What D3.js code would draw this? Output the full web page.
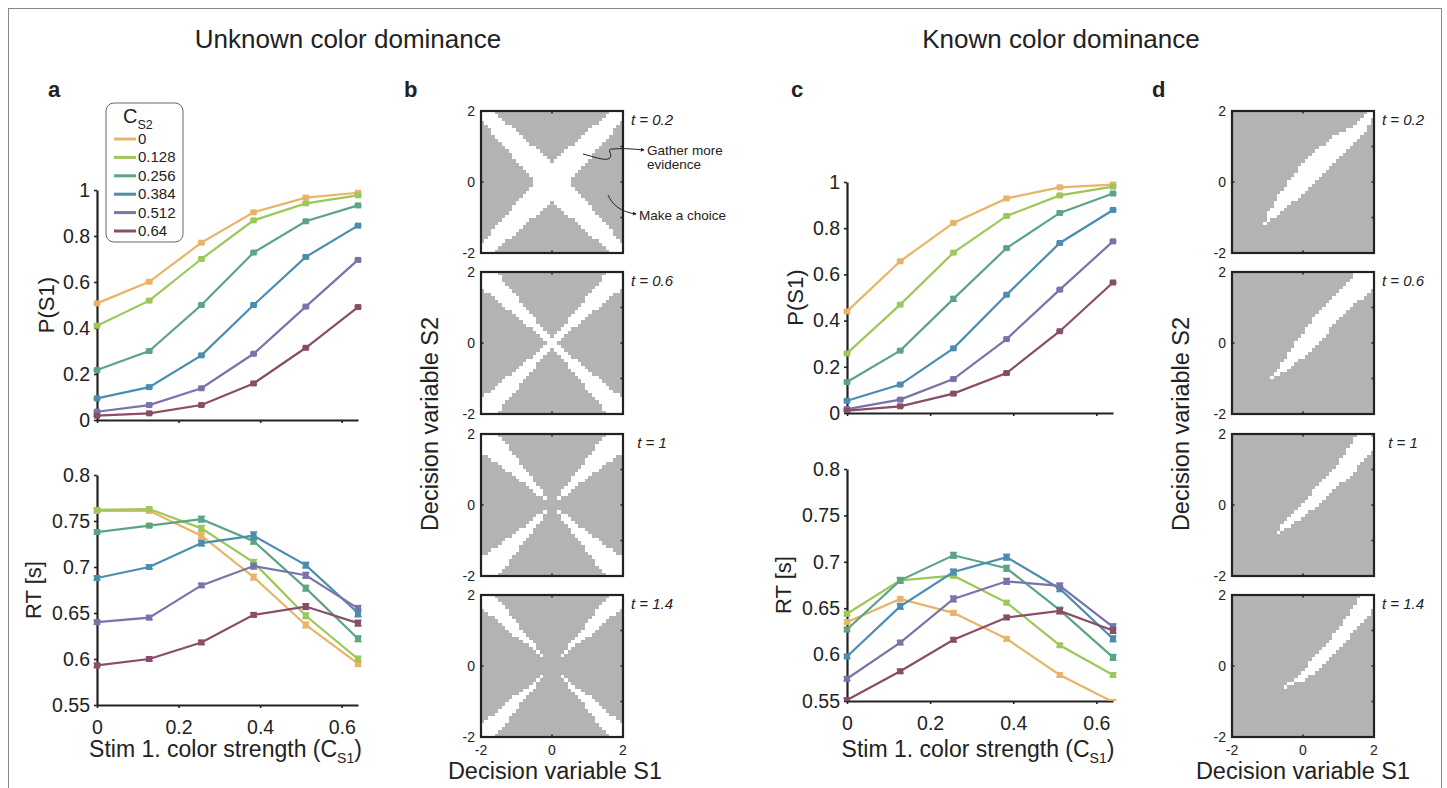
<!DOCTYPE html>
<html>
<head>
<meta charset="utf-8">
<script src="https://cdn.jsdelivr.net/npm/d3@7"></script>
<style>
  body { margin: 0; background: #fff; }
  text { font-family: "Liberation Sans", Arial, Helvetica, sans-serif; fill: #222; }
</style>
</head>
<body>
<svg id="fig" width="1447" height="788"></svg>
<script>
// ---- data ----
const strengths = [0, 0.128, 0.256, 0.384, 0.512, 0.64];
const seriesLabels = ['0', '0.128', '0.256', '0.384', '0.512', '0.64'];
const seriesColors = ['#e9b467', '#9cc85a', '#5ca584', '#4a8db0', '#7873a8', '#8a4d69'];

const pUnknown = [
  [0.507, 0.601, 0.771, 0.903, 0.967, 0.988],
  [0.410, 0.519, 0.700, 0.868, 0.942, 0.977],
  [0.217, 0.300, 0.500, 0.728, 0.864, 0.933],
  [0.094, 0.143, 0.281, 0.500, 0.709, 0.845],
  [0.036, 0.065, 0.138, 0.288, 0.493, 0.696],
  [0.019, 0.029, 0.065, 0.159, 0.314, 0.491]
];
const rtUnknown = [
  [0.761, 0.761, 0.734, 0.689, 0.637, 0.595],
  [0.762, 0.763, 0.742, 0.705, 0.647, 0.600],
  [0.738, 0.745, 0.752, 0.728, 0.677, 0.622],
  [0.688, 0.700, 0.726, 0.734, 0.702, 0.650],
  [0.640, 0.645, 0.680, 0.701, 0.691, 0.655],
  [0.593, 0.600, 0.618, 0.648, 0.657, 0.639]
];
const rtUnknownErr = [
  [0.002, 0.002, 0.003, 0.003, 0.003, 0.003],
  [0.002, 0.002, 0.003, 0.003, 0.003, 0.003],
  [0.002, 0.002, 0.003, 0.003, 0.003, 0.003],
  [0.002, 0.002, 0.003, 0.004, 0.003, 0.004],
  [0.002, 0.002, 0.002, 0.003, 0.003, 0.003],
  [0.002, 0.002, 0.002, 0.002, 0.003, 0.003]
];
const pUnknownErr = [
  [0.004, 0.004, 0.004, 0.004, 0.004, 0.004],
  [0.004, 0.004, 0.004, 0.004, 0.004, 0.004],
  [0.004, 0.004, 0.004, 0.004, 0.004, 0.004],
  [0.004, 0.004, 0.004, 0.004, 0.004, 0.004],
  [0.004, 0.004, 0.004, 0.004, 0.004, 0.004],
  [0.004, 0.004, 0.004, 0.004, 0.004, 0.004]
];
const pKnown = [
  [0.440, 0.657, 0.823, 0.929, 0.977, 0.989],
  [0.258, 0.469, 0.694, 0.853, 0.942, 0.980],
  [0.134, 0.270, 0.494, 0.714, 0.866, 0.950],
  [0.053, 0.123, 0.280, 0.512, 0.736, 0.879],
  [0.017, 0.058, 0.147, 0.320, 0.534, 0.743],
  [0.010, 0.029, 0.084, 0.173, 0.354, 0.565]
];
const rtKnown = [
  [0.635, 0.660, 0.645, 0.617, 0.578, 0.549],
  [0.644, 0.680, 0.685, 0.656, 0.610, 0.578],
  [0.627, 0.680, 0.707, 0.693, 0.648, 0.597],
  [0.598, 0.652, 0.689, 0.705, 0.671, 0.617],
  [0.574, 0.613, 0.660, 0.679, 0.674, 0.630],
  [0.551, 0.582, 0.616, 0.640, 0.647, 0.626]
];
const rtKnownErr = [
  [0.002, 0.002, 0.002, 0.002, 0.002, 0.002],
  [0.002, 0.002, 0.002, 0.002, 0.002, 0.002],
  [0.002, 0.003, 0.003, 0.003, 0.003, 0.003],
  [0.002, 0.003, 0.003, 0.003, 0.003, 0.003],
  [0.002, 0.002, 0.003, 0.003, 0.003, 0.003],
  [0.002, 0.002, 0.002, 0.002, 0.003, 0.003]
];
const pKnownErr = [
  [0.004, 0.004, 0.004, 0.004, 0.004, 0.004],
  [0.004, 0.004, 0.004, 0.004, 0.004, 0.004],
  [0.004, 0.004, 0.010, 0.004, 0.004, 0.004],
  [0.004, 0.004, 0.004, 0.004, 0.004, 0.004],
  [0.004, 0.004, 0.004, 0.004, 0.004, 0.004],
  [0.004, 0.004, 0.004, 0.004, 0.004, 0.004]
];

const pTicks = [0, 0.2, 0.4, 0.6, 0.8, 1];
const rtTicks = [0.55, 0.6, 0.65, 0.7, 0.75, 0.8];
const strengthTicks = [0, 0.2, 0.4, 0.6];
const timeLabels = ['0.2', '0.6', '1', '1.4'];
const dvTicks = [-2, 0, 2];

// Unknown dominance: white X-arm cells, per |row offset| 0..20 from centre, [min,max] |column offset|
const xArms = [
  [[0,5],[0,5],[0,6],[0,7],[0,8],[0,9],[1,10],[2,11],[3,11],[4,12],[5,13],[7,14],[8,15],[9,16],[10,17],[11,17],[12,18],[14,19],[15,20],[16,20],[17,20]],
  [[0,1],[0,2],[1,3],[2,4],[3,5],[4,7],[5,8],[5,9],[6,10],[7,11],[8,13],[9,14],[10,15],[10,16],[11,17],[12,19],[13,20],[14,20],[15,20],[15,20],[16,20]],
  [null,null,[2,2],[3,4],[3,5],[4,6],[5,7],[6,9],[6,10],[7,11],[8,13],[9,14],[10,15],[10,17],[11,18],[12,20],[13,20],[13,20],[14,20],[15,20],[16,20]],
  [null,null,null,[3,3],[4,4],[5,5],[5,6],[6,8],[7,9],[8,11],[9,12],[10,13],[10,14],[11,15],[12,16],[13,18],[13,19],[14,20],[15,20],[16,20],[17,20]]
];
// Known dominance: white diagonal cells per grid row (top to bottom), [first,last] column
const diagBands = [
  [[39,40],[38,40],[37,39],[36,39],[35,38],[33,38],[31,37],[29,36],[28,35],[27,34],[25,33],[24,32],[23,31],[22,30],[21,29],[20,28],[19,27],[19,26],[18,25],[17,24],[16,23],[16,22],[15,21],[14,20],[13,19],[13,18],[12,16],[12,15],[11,14],[10,13],[10,12],[10,10],[9,9]],
  [[35,40],[35,40],[34,40],[33,40],[32,40],[31,39],[30,38],[29,37],[28,35],[27,34],[26,33],[25,32],[24,31],[23,30],[23,29],[22,28],[21,27],[21,27],[20,26],[19,25],[18,24],[18,23],[17,22],[16,21],[16,20],[15,18],[14,17],[14,16],[13,15],[12,13],[11,11]],
  [[36,39],[35,40],[35,40],[34,40],[33,40],[33,39],[32,38],[31,37],[31,36],[30,35],[29,35],[28,34],[27,33],[26,32],[25,30],[24,29],[23,28],[23,27],[22,26],[21,25],[20,24],[19,23],[18,21],[17,20],[16,19],[15,17],[14,16],[14,14],[13,13]],
  [[37,40],[36,40],[36,40],[35,40],[34,39],[34,39],[33,38],[32,37],[32,36],[31,35],[30,34],[29,33],[29,33],[28,32],[27,31],[26,30],[25,29],[24,28],[23,27],[22,26],[22,25],[21,24],[20,23],[19,21],[18,20],[16,17],[15,15]]
];

// ---- drawing ----
const svg = d3.select('#fig');
const fmt = d3.format('~g');
const INK = '#222';

// figure frame
svg.append('rect').attr('x', 8.5).attr('y', 8.5).attr('width', 1433).attr('height', 800)
  .attr('fill', 'none').attr('stroke', '#888').attr('stroke-width', 1);

svg.append('text').attr('x', 348).attr('y', 48).attr('text-anchor', 'middle')
  .style('font-size', '26px').text('Unknown color dominance');
svg.append('text').attr('x', 1061).attr('y', 48).attr('text-anchor', 'middle')
  .style('font-size', '26px').text('Known color dominance');

[['a', 48], ['b', 404], ['c', 791], ['d', 1152]].forEach(([t, x]) => {
  svg.append('text').attr('x', x).attr('y', 97).style('font-size', '22px')
    .style('font-weight', 'bold').text(t);
});

let clipId = 0;
function linePanel(o) {
  const x = d3.scaleLinear().domain([0, 0.64]).range([o.x0, o.x1]);
  const y = d3.scaleLinear().domain(o.domainY).range([o.yBottom, o.yTop]);
  const g = svg.append('g');

  const xa = g.append('g').attr('transform', `translate(0,${o.yBottom})`)
    .call(d3.axisBottom(x).tickValues(strengthTicks).tickSize(3).tickSizeOuter(0)
      .tickPadding(12).tickFormat(o.xLabels ? fmt : ''));
  const ya = g.append('g').attr('transform', `translate(${o.x0},0)`)
    .call(d3.axisLeft(y).tickValues(o.yTicks).tickSize(3).tickSizeOuter(0)
      .tickPadding(4).tickFormat(fmt));
  [xa, ya].forEach(a => {
    a.select('.domain').attr('stroke', INK).attr('stroke-width', 2.2);
    a.selectAll('.tick line').attr('stroke', INK).attr('stroke-width', 1.6);
    a.selectAll('.tick text').style('font-size', '19.5px').attr('fill', INK);
  });

  g.append('text')
    .attr('transform', `translate(${o.yLabelX},${(o.yTop + o.yBottom) / 2}) rotate(-90)`)
    .attr('text-anchor', 'middle').style('font-size', '22px').text(o.yLabel);

  if (o.xLabels) {
    const t = g.append('text').attr('x', (o.x0 + o.x1) / 2 - 2).attr('y', 757)
      .attr('text-anchor', 'middle').style('font-size', '23px');
    t.append('tspan').text('Stim 1. color strength (C');
    t.append('tspan').attr('dy', 6).style('font-size', '14px').text('S1');
    t.append('tspan').attr('dy', -6).text(')');
  }

  const id = 'clip' + (clipId++);
  g.append('clipPath').attr('id', id).append('rect')
    .attr('x', o.x0 - 6).attr('y', o.yTop - 10)
    .attr('width', o.x1 - o.x0 + 12).attr('height', o.yBottom - o.yTop + 10);
  const plot = g.append('g').attr('clip-path', `url(#${id})`);
  const line = d3.line().x((d, i) => x(strengths[i])).y(d => y(d));

  o.values.forEach((vals, s) => {
    const col = seriesColors[s];
    plot.append('path').datum(vals).attr('d', line).attr('fill', 'none')
      .attr('stroke', col).attr('stroke-width', 2.2);
    const pts = vals.map((v, i) => ({ x: x(strengths[i]), v, e: o.errs[s][i] }));
    const eb = plot.append('g').attr('stroke', col).attr('stroke-width', 1.6);
    pts.forEach(p => {
      const yl = y(p.v - p.e), yh = y(p.v + p.e);
      eb.append('line').attr('x1', p.x).attr('x2', p.x).attr('y1', yl).attr('y2', yh);
      eb.append('line').attr('x1', p.x - 3.5).attr('x2', p.x + 3.5).attr('y1', yl).attr('y2', yl);
      eb.append('line').attr('x1', p.x - 3.5).attr('x2', p.x + 3.5).attr('y1', yh).attr('y2', yh);
    });
    plot.append('g').selectAll('rect').data(pts).join('rect')
      .attr('x', p => p.x - 3).attr('y', p => y(p.v) - 3)
      .attr('width', 6).attr('height', 6).attr('fill', col);
  });
}

linePanel({ x0: 97, x1: 358, yBottom: 420, yTop: 190, domainY: [0, 1], yTicks: pTicks,
  values: pUnknown, errs: pUnknownErr, xLabels: false, yLabel: 'P(S1)', yLabelX: 54 });
linePanel({ x0: 97, x1: 358, yBottom: 705, yTop: 475, domainY: [0.55, 0.8], yTicks: rtTicks,
  values: rtUnknown, errs: rtUnknownErr, xLabels: true, yLabel: 'RT [s]', yLabelX: 41 });
linePanel({ x0: 847, x1: 1113, yBottom: 413, yTop: 182, domainY: [0, 1], yTicks: pTicks,
  values: pKnown, errs: pKnownErr, xLabels: false, yLabel: 'P(S1)', yLabelX: 803 });
linePanel({ x0: 847, x1: 1113, yBottom: 701, yTop: 469, domainY: [0.55, 0.8], yTicks: rtTicks,
  values: rtKnown, errs: rtKnownErr, xLabels: true, yLabel: 'RT [s]', yLabelX: 791 });

// legend
const lg = svg.append('g');
lg.append('rect').attr('x', 106).attr('y', 103).attr('width', 77).attr('height', 139)
  .attr('rx', 8).attr('fill', '#fff').attr('stroke', '#666').attr('stroke-width', 1);
const lt = lg.append('text').attr('x', 123).attr('y', 123).style('font-size', '20px');
lt.append('tspan').text('C');
lt.append('tspan').attr('dy', 6).style('font-size', '12.5px').text('S2');
seriesLabels.forEach((lab, i) => {
  const yy = 144 + i * 18.4;
  lg.append('line').attr('x1', 114).attr('x2', 136).attr('y1', yy - 5).attr('y2', yy - 5)
    .attr('stroke', seriesColors[i]).attr('stroke-width', 3);
  lg.append('text').attr('x', 138).attr('y', yy).style('font-size', '15px').text(lab);
});

// heat maps
const BOX = 142;
const boxTops = [111, 272, 434, 595];
const grid = d3.range(41);

function heatPanel(x0, y0, isWhite, k, last, tx) {
  const g = svg.append('g');
  const cx = d3.scaleBand().domain(grid).range([x0, x0 + BOX]);
  const cy = d3.scaleBand().domain(grid).range([y0, y0 + BOX]);
  const vx = d3.scaleLinear().domain([-2, 2]).range([x0, x0 + BOX]);
  const vy = d3.scaleLinear().domain([-2, 2]).range([y0 + BOX, y0]);
  const cells = [];
  grid.forEach(r => grid.forEach(c => cells.push({ r, c, w: isWhite(r, c) })));
  g.append('g').attr('shape-rendering', 'crispEdges').selectAll('rect').data(cells).join('rect')
    .attr('x', d => cx(d.c)).attr('y', d => cy(d.r))
    .attr('width', cx.bandwidth() + 0.5).attr('height', cy.bandwidth() + 0.5)
    .attr('fill', d => d.w ? '#ffffff' : '#b3b3b3');
  g.append('rect').attr('x', x0).attr('y', y0).attr('width', BOX).attr('height', BOX)
    .attr('fill', 'none').attr('stroke', INK).attr('stroke-width', 2.2);
  // small inward ticks
  const tk = g.append('g').attr('stroke', INK).attr('stroke-width', 1.5);
  tk.append('line').attr('x1', vx(0)).attr('x2', vx(0)).attr('y1', y0).attr('y2', y0 + 2.5);
  tk.append('line').attr('x1', vx(0)).attr('x2', vx(0)).attr('y1', y0 + BOX).attr('y2', y0 + BOX - 2.5);
  tk.append('line').attr('x1', x0).attr('x2', x0 + 2.5).attr('y1', vy(0)).attr('y2', vy(0));
  [-1, 0, 1].forEach(v => tk.append('line').attr('x1', x0 + BOX).attr('x2', x0 + BOX - 2.5)
    .attr('y1', vy(v)).attr('y2', vy(v)));
  dvTicks.forEach(v => g.append('text').attr('x', x0 - 6).attr('y', vy(v) + 5)
    .attr('text-anchor', 'end').style('font-size', '14px').text(v));
  if (last) {
    dvTicks.forEach(v => g.append('text').attr('x', vx(v)).attr('y', y0 + BOX + 18)
      .attr('text-anchor', 'middle').style('font-size', '14px').text(v));
  }
  g.append('text').attr('x', tx).attr('y', y0 + 14).attr('text-anchor', 'middle')
    .style('font-size', '15px').style('font-style', 'italic').text('t = ' + timeLabels[k]);
}

boxTops.forEach((top, k) => {
  const arms = xArms[k];
  heatPanel(481, top, (r, c) => {
    const b = arms[Math.abs(r - 20)];
    const i = Math.abs(c - 20);
    return !!b && i >= b[0] && i <= b[1];
  }, k, k === 3, 652);
  const rows = diagBands[k];
  heatPanel(1232, top, (r, c) => {
    const b = rows[r];
    return !!b && c >= b[0] && c <= b[1];
  }, k, k === 3, 1403);
});

[555, 1303].forEach(cx => {
  svg.append('text').attr('x', cx).attr('y', 779).attr('text-anchor', 'middle')
    .style('font-size', '23.5px').text('Decision variable S1');
});
[438, 1189].forEach(xx => {
  svg.append('text').attr('transform', `translate(${xx},424) rotate(-90)`)
    .attr('text-anchor', 'middle').style('font-size', '23.5px').text('Decision variable S2');
});

// annotations on first map of b
const defs = svg.append('defs');
defs.append('marker').attr('id', 'arr').attr('viewBox', '0 0 6 6').attr('refX', 5).attr('refY', 3)
  .attr('markerWidth', 4).attr('markerHeight', 4).attr('orient', 'auto')
  .append('path').attr('d', 'M0,0 L6,3 L0,6 Z').attr('fill', INK);
svg.append('path').attr('d', 'M583,154 C592,156 606,162 610,158 C613,154 606,149 612,149 C622,148 634,149 644,150')
  .attr('fill', 'none').attr('stroke', INK).attr('stroke-width', 1).attr('marker-end', 'url(#arr)');
svg.append('path').attr('d', 'M608,195 C612,204 620,212 636,214')
  .attr('fill', 'none').attr('stroke', INK).attr('stroke-width', 1).attr('marker-end', 'url(#arr)');
svg.append('text').attr('x', 647).attr('y', 155).style('font-size', '13.5px').text('Gather more');
svg.append('text').attr('x', 647).attr('y', 169).style('font-size', '13.5px').text('evidence');
svg.append('text').attr('x', 639).attr('y', 220).style('font-size', '13.5px').text('Make a choice');
</script>
</body>
</html>
